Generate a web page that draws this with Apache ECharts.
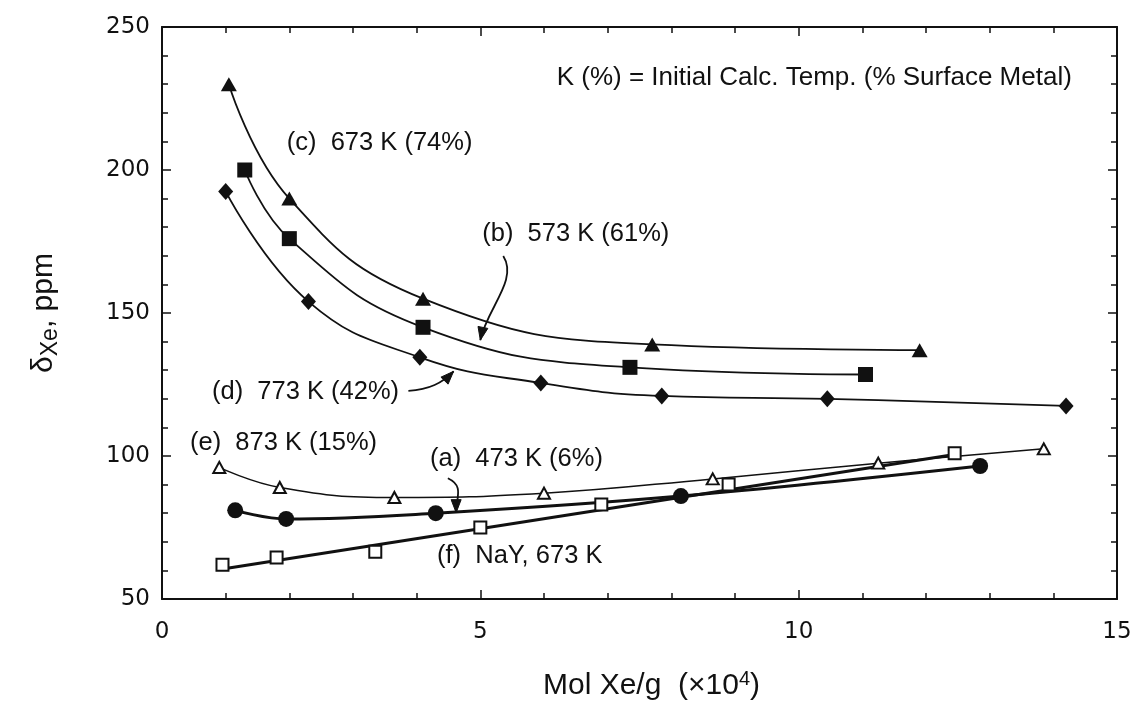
<!DOCTYPE html>
<html>
<head>
<meta charset="utf-8">
<script src="https://cdn.jsdelivr.net/npm/echarts@6/dist/echarts.min.js"></script>
<style>
  html, body { margin: 0; padding: 0; background: #fff; }
  #chart { width: 1140px; height: 706px; }
</style>
</head>
<body>
<div id="chart"></div>
<script>
// Axis ticks
const xTicks = [0, 5, 10, 15];
const yTicks = [50, 100, 150, 200, 250];

// Xe chemical shift (ppm) vs Xe loading (mol Xe/g x10^4)
// (c) 673 K, filled triangles
const seriesC = [[1.05, 230], [2.0, 190], [4.1, 155], [7.7, 139], [11.9, 137]];
// (b) 573 K, filled squares
const seriesB = [[1.3, 200], [2.0, 176], [4.1, 145], [7.35, 131], [11.05, 128.5]];
// (d) 773 K, filled diamonds
const seriesD = [[1.0, 192.5], [2.3, 154], [4.05, 134.5], [5.95, 125.5], [7.85, 121], [10.45, 120], [14.2, 117.5]];
// (e) 873 K, open triangles
const seriesE = [[0.9, 96], [1.85, 89], [3.65, 85.5], [6.0, 87], [8.65, 92], [11.25, 97.5], [13.85, 102.5]];
// (a) 473 K, filled circles
const seriesA = [[1.15, 81], [1.95, 78], [4.3, 80], [8.15, 86], [12.85, 96.5]];
// (f) NaY 673 K, open squares, with straight fit line
const seriesF = [[0.95, 62], [1.8, 64.5], [3.35, 66.5], [5.0, 75], [6.9, 83], [8.9, 90], [12.45, 101]];
const fitF = [[0.95, 60.5], [12.45, 100.5]];

// Text labels anchored at data coordinates (left edge, vertical middle)
const notes = [
  { text: 'K (%) = Initial Calc. Temp. (% Surface Metal)', at: [6.2, 232.2], size: 26 },
  { text: '(c)  673 K (74%)', at: [1.96, 209.6], size: 25.5 },
  { text: '(b)  573 K (61%)', at: [5.03, 177.5], size: 25.5 },
  { text: '(d)  773 K (42%)', at: [0.785, 122.5], size: 25.5 },
  { text: '(e)  873 K (15%)', at: [0.44, 104.4], size: 25.5 },
  { text: '(a)  473 K (6%)', at: [4.21, 99.1], size: 25.5 },
  { text: '(f)  NaY, 673 K', at: [4.32, 65.0], size: 25.5 }
];

// Pointer arrows: start, control 1, control 2, tip (data coordinates)
const arrows = [
  [[5.36, 169.9], [5.6, 161.5], [5.1, 151.5], [5.0, 140.5]],
  [[3.87, 122.8], [4.2, 123.2], [4.4, 125.5], [4.58, 129.6]],
  [[4.49, 92.2], [4.75, 89.5], [4.62, 85.5], [4.62, 80.2]]
];

const ink = '#111';
const tickFont = { fontFamily: 'DejaVu Sans', fontSize: 23, color: ink };

function valueAxis(pos, ticks, showLabels, extra) {
  return Object.assign({
    type: 'value',
    position: pos,
    min: ticks[0],
    max: ticks[ticks.length - 1],
    interval: ticks[1] - ticks[0],
    axisLine: { show: true, onZero: false, lineStyle: { color: ink, width: 2 } },
    axisTick: { show: true, inside: true, length: 9, lineStyle: { color: ink, width: 1.5 } },
    minorTick: { show: true, splitNumber: 5, length: 6, lineStyle: { color: ink, width: 1.5 } },
    splitLine: { show: false },
    axisLabel: Object.assign({ show: showLabels }, tickFont)
  }, extra || {});
}

function lineSeries(name, data, symbol, size, filled, width, smooth) {
  return {
    name: name,
    type: 'line',
    data: data,
    smooth: smooth,
    symbol: symbol,
    symbolSize: size,
    showAllSymbol: true,
    lineStyle: { color: ink, width: width },
    itemStyle: filled
      ? { color: ink, borderColor: ink, borderWidth: 0 }
      : { color: '#fff', borderColor: ink, borderWidth: 2 },
    emphasis: { disabled: true },
    z: filled ? 3 : 4
  };
}

const chart = echarts.init(document.getElementById('chart'), null, { renderer: 'canvas' });

const option = {
  animation: false,
  backgroundColor: '#fff',
  grid: { left: 162, right: 23, top: 27, bottom: 105, containLabel: false },
  xAxis: [
    valueAxis('bottom', xTicks, true, {
      axisLabel: Object.assign({ show: true, margin: 22 }, tickFont),
      name: '{n|Mol Xe/g  (×10}{p|4}{n|)}',
      nameLocation: 'middle',
      nameGap: 70,
      nameTextStyle: {
        padding: [0, 0, 0, 24],
        rich: {
          n: { fontFamily: 'Liberation Sans', fontSize: 30, color: ink },
          p: { fontFamily: 'Liberation Sans', fontSize: 20, color: ink, padding: [0, 0, 14, 0] }
        }
      }
    }),
    valueAxis('top', xTicks, false)
  ],
  yAxis: [
    valueAxis('left', yTicks, true, {
      axisLabel: Object.assign({ show: true, margin: 12 }, tickFont),
      name: '{d|δ}{s|Xe}{d|, ppm}',
      nameLocation: 'middle',
      nameGap: 100,
      nameRotate: 90,
      nameTextStyle: {
        rich: {
          d: { fontFamily: 'Liberation Sans', fontSize: 30, color: ink },
          s: { fontFamily: 'Liberation Sans', fontSize: 23, color: ink, padding: [14, 0, 0, 0] }
        }
      }
    }),
    valueAxis('right', yTicks, false)
  ],
  series: [
    lineSeries('(e) 873 K', seriesE, 'triangle', [12, 11], false, 1.5, 0.45),
    lineSeries('(c) 673 K', seriesC, 'triangle', [16, 14], true, 1.8, 0.45),
    lineSeries('(b) 573 K', seriesB, 'rect', [15, 15], true, 1.8, 0.45),
    lineSeries('(d) 773 K', seriesD, 'diamond', [15, 17], true, 1.8, 0.45),
    lineSeries('(a) 473 K', seriesA, 'circle', [16, 16], true, 3, 0.4),
    {
      name: '(f) fit',
      type: 'line',
      data: fitF,
      symbol: 'none',
      lineStyle: { color: ink, width: 3 },
      emphasis: { disabled: true },
      z: 3
    },
    Object.assign(lineSeries('(f) NaY', seriesF, 'rect', [12, 12], false, 0, false), {
      lineStyle: { width: 0, opacity: 0 }
    })
  ]
};

chart.setOption(option);

// Annotation text and arrows, placed through the chart's coordinate system
const px = p => chart.convertToPixel({ xAxisIndex: 0, yAxisIndex: 0 }, p);
const graphics = [];

notes.forEach(n => {
  const p = px(n.at);
  graphics.push({
    type: 'text',
    x: p[0], y: p[1],
    style: {
      text: n.text,
      fontFamily: 'Liberation Sans',
      fontSize: n.size,
      fill: ink,
      textVerticalAlign: 'middle',
      verticalAlign: 'middle'
    },
    z: 10
  });
});

arrows.forEach(a => {
  const s = px(a[0]), c1 = px(a[1]), c2 = px(a[2]), e = px(a[3]);
  graphics.push({
    type: 'bezierCurve',
    shape: { x1: s[0], y1: s[1], cpx1: c1[0], cpy1: c1[1], cpx2: c2[0], cpy2: c2[1], x2: e[0], y2: e[1] },
    style: { stroke: ink, lineWidth: 1.8, fill: null },
    z: 10
  });
  const ang = Math.atan2(e[1] - c2[1], e[0] - c2[0]);
  const L = 13, W = 5;
  const bx = e[0] - L * Math.cos(ang), by = e[1] - L * Math.sin(ang);
  graphics.push({
    type: 'polygon',
    shape: {
      points: [
        [e[0], e[1]],
        [bx + W * Math.sin(ang), by - W * Math.cos(ang)],
        [bx - W * Math.sin(ang), by + W * Math.cos(ang)]
      ]
    },
    style: { fill: ink, stroke: ink, lineWidth: 1 },
    z: 10
  });
});

chart.setOption({ graphic: graphics });
</script>
</body>
</html>
